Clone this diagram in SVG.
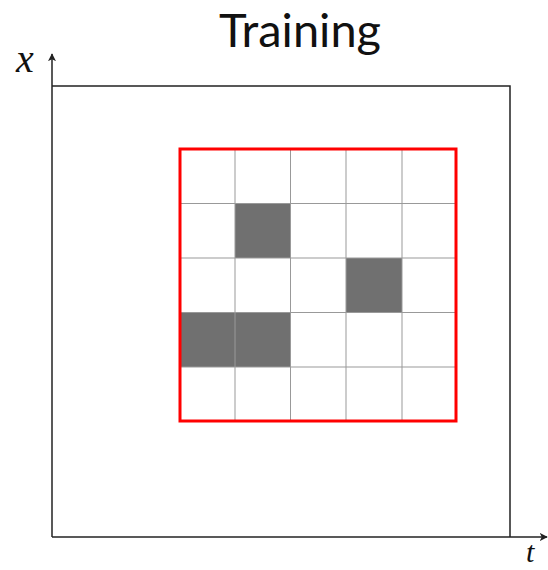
<svg xmlns="http://www.w3.org/2000/svg" width="548" height="570" viewBox="0 0 548 570">
<defs>
<style>
.ax{stroke:#222;stroke-width:1.5;fill:none}
.grid{stroke:#999;stroke-width:1;fill:none}
.dark{fill:#707070}
.lab{font-family:"Liberation Serif",serif;font-style:italic;fill:#111}
</style>
<marker id="ah" viewBox="0 0 10 10" refX="9" refY="5" markerWidth="8" markerHeight="8" markerUnits="userSpaceOnUse" orient="auto">
<path d="M0,0 L10,5 L0,10 L2.5,5 Z" fill="#222"/>
</marker>
</defs>
<rect width="548" height="570" fill="#fff"/>
<text x="300" y="47" text-anchor="middle" font-family="Lato, 'Open Sans', sans-serif" font-size="47" fill="#111">Training</text>
<g id="connectors">
<line class="ax" x1="52" y1="537" x2="52" y2="54" marker-end="url(#ah)"/>
<line class="ax" x1="52" y1="537" x2="547" y2="537" marker-end="url(#ah)"/>
<path class="ax" d="M52,86 H510 V537"/>
</g>
<text class="lab" x="16" y="72" font-size="40">x</text>
<text class="lab" x="526" y="562" font-size="30">t</text>
<g id="cells">
<rect class="dark" x="235" y="203.5" width="55.5" height="54.5"/>
<rect class="dark" x="346" y="258" width="56" height="54.5"/>
<rect class="dark" x="180" y="312.5" width="110.5" height="54.5"/>
</g>
<g id="grid">
<path class="grid" d="M235,149 V421 M290.5,149 V421 M346,149 V421 M402,149 V421 M180,203.5 H456 M180,258 H456 M180,312.5 H456 M180,367 H456"/>
</g>
<rect id="window" x="180" y="149" width="276" height="272" fill="none" stroke="#f00" stroke-width="3"/>
</svg>
